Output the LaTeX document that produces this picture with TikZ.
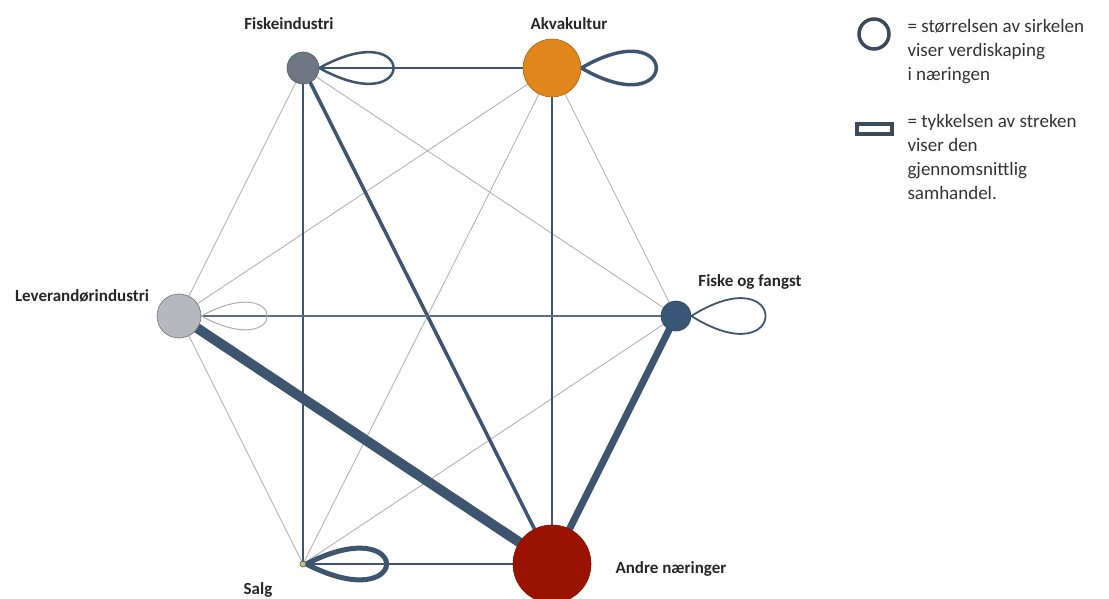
\documentclass[tikz,border=0pt]{standalone}
\usepackage{fontspec}
\setmainfont{Carlito}
\usetikzlibrary{backgrounds}

\definecolor{fiskeGray}{HTML}{6E7781}
\definecolor{akvaOrange}{HTML}{E0861A}
\definecolor{levGray}{HTML}{B5B9BE}
\definecolor{ffBlue}{HTML}{3A5676}
\definecolor{salgYellow}{HTML}{C9C46A}
\definecolor{andreRed}{HTML}{9A1300}
\definecolor{linkBlue}{HTML}{3E5570}
\definecolor{thinGray}{HTML}{A9ACB1}
\definecolor{legendBlue}{HTML}{3B4A5A}

\tikzset{
  sector/.style={circle, inner sep=0pt, line width=0.6pt},
  weak/.style={draw=thinGray, line width=0.8pt},
  trade/.style={draw=linkBlue, line width=#1, shorten <=-2pt, shorten >=-2pt},
  selftrade/.style={draw=linkBlue, line width=#1, line join=round},
  sectorname/.style={font=\bfseries\fontsize{17}{20}\selectfont, text=black!85},
  legendtext/.style={font=\fontsize{19}{24}\selectfont, text=black!80, align=left, anchor=north west}
}

\begin{document}
\begin{tikzpicture}[x=1pt, y=-1pt]
    \useasboundingbox (0,0) rectangle (1109,599);

    % Sectors
    \node [sector, draw=fiskeGray!80!black, fill=fiskeGray, minimum size=32] (fi) at (303,68) {};
    \node [sector, draw=akvaOrange!75!black, fill=akvaOrange, minimum size=58] (ak) at (552,68) {};
    \node [sector, draw=levGray!60!black, fill=levGray, minimum size=44] (lev) at (179,316) {};
    \node [sector, draw=ffBlue!80!black, fill=ffBlue, minimum size=30] (ff) at (676,316) {};
    \node [sector, draw=linkBlue, fill=salgYellow, minimum size=6] (salg) at (303,564) {};
    \node [sector, draw=andreRed!85!black, fill=andreRed, minimum size=78] (andre) at (552,564) {};

    \begin{scope}[on background layer]
        % Drawing weak links
        \draw [weak] (fi) -- (lev);
        \draw [weak] (fi) -- (ff);
        \draw [weak] (ak) -- (lev);
        \draw [weak] (ak) -- (ff);
        \draw [weak] (ak) -- (salg);
        \draw [weak] (lev) -- (salg);
        \draw [weak] (ff) -- (salg);

        % Drawing trade links
        \draw [trade=2.5pt] (fi) -- (ak);
        \draw [trade=2.5pt] (fi) -- (salg);
        \draw [trade=3.5pt] (fi) -- (andre);
        \draw [trade=2.5pt] (ak) -- (andre);
        \draw [trade=2pt, draw=linkBlue!85!white] (lev) -- (ff);
        \draw [trade=10pt] (lev) -- (andre);
        \draw [trade=7pt] (ff) -- (andre);
        \draw [trade=2pt] (salg) -- (andre);
    \end{scope}

    % Drawing trade within the sector
    \draw [selftrade=2.5pt] (fi.east) .. controls +(99,-55) and +(99,55) .. (fi.east);
    \draw [selftrade=3.5pt] (ak.east) .. controls +(100,-58) and +(100,58) .. (ak.east);
    \draw [selftrade=1pt, draw=thinGray] (lev.east) .. controls +(88,-48) and +(88,48) .. (lev.east);
    \draw [selftrade=1.8pt] (ff.east) .. controls +(99,-62) and +(99,62) .. (ff.east);
    \draw [selftrade=5pt] (salg.east) .. controls +(107,-55) and +(107,55) .. (salg.east);

    % Sector names
    \node [sectorname] (fi-name) at (289,24) {Fiskeindustri};
    \node [sectorname] (ak-name) at (569,24) {Akvakultur};
    \node [sectorname] (lev-name) at (82,296) {Leverandørindustri};
    \node [sectorname] (ff-name) at (750,282) {Fiske og fangst};
    \node [sectorname] (salg-name) at (258,590) {Salg};
    \node [sectorname] (andre-name) at (671,569) {Andre næringer};

    % Legend
    \node [circle, draw=legendBlue, line width=3.5pt, minimum size=30, inner sep=0pt] (key-circle) at (874,34) {};
    \draw [draw=legendBlue, line width=3.5pt] (857,124) rectangle (892,134);
    \node [legendtext] (key-size) at (904,16) {= størrelsen av sirkelen\\viser verdiskaping\\i næringen};
    \node [legendtext] (key-width) at (904,111) {= tykkelsen av streken\\viser den\\gjennomsnittlig\\samhandel.};
\end{tikzpicture}
\end{document}
